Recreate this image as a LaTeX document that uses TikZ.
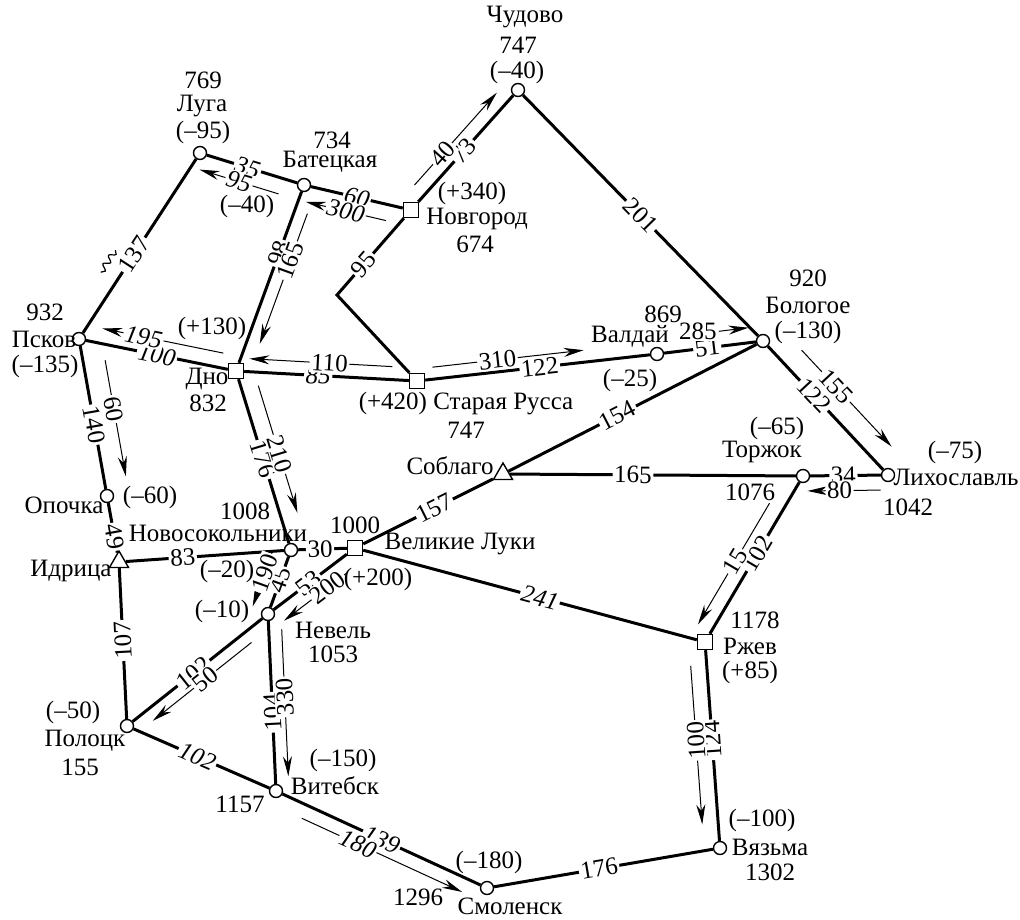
\documentclass[tikz,border=0pt]{standalone}
\usepackage{fontspec}
\setmainfont{Liberation Serif}
\usetikzlibrary{calc, positioning, shapes.geometric, arrows.meta, decorations.pathmorphing}
\newcommand{\mapfont}{\fontsize{12.5}{15}\selectfont}
\tikzstyle{stn}=[draw, shape=circle, fill=white, inner sep=0pt, minimum size=6.5pt, line width=0.7pt]
\tikzstyle{hub}=[draw, shape=rectangle, fill=white, inner sep=0pt, minimum size=7.5pt, line width=0.7pt]
\tikzstyle{jct}=[draw, shape=regular polygon, regular polygon sides=3, fill=white, inner sep=0pt, minimum size=11pt, line width=0.7pt]
\tikzstyle{rail}=[line width=1.5pt]
\tikzstyle{flow}=[line width=0.5pt, ->]
\tikzstyle{num}=[fill=white, inner sep=0.8pt, sloped, font=\mapfont]
\tikzstyle{inum}=[num, font=\mapfont\itshape]
\tikzstyle{upnum}=[fill=white, inner sep=0.8pt, font=\mapfont]
\tikzstyle{txt}=[inner sep=0pt, font=\mapfont]
\tikzset{>={Stealth[length=10pt, width=4.5pt]}}

\begin{document}
\begin{tikzpicture}[x=0.5pt, y=-0.5pt, font=\mapfont]
\useasboundingbox (0,0) rectangle (1020,919);

% stations
\node[stn] (Chud) at (518,90) {};
\node[stn] (Luga) at (200,153) {};
\node[stn] (Bat) at (304,185) {};
\node[hub] (Nov) at (411,210) {};
\coordinate (bend) at (337,295);
\node[stn] (Pskov) at (79,339) {};
\node[hub] (Dno) at (236,371) {};
\node[hub] (SR) at (417,381) {};
\node[stn] (Vald) at (657,354) {};
\node[stn] (Bolog) at (763,341) {};
\node[jct] (Sobl) at (503,474) {};
\node[stn] (Torzh) at (803,476) {};
\node[stn] (Likh) at (888,475) {};
\node[stn] (Opoch) at (107,496) {};
\node[jct] (Idr) at (119,562) {};
\node[stn] (Nsok) at (291,550) {};
\node[hub] (VL) at (355,548) {};
\node[stn] (Nev) at (268,614) {};
\node[hub] (Rzhev) at (705,642) {};
\node[stn] (Polo) at (127,726) {};
\node[stn] (Vit) at (276,791) {};
\node[stn] (Smol) at (487,888) {};
\node[stn] (Vyaz) at (720,848) {};

% lines
\draw[rail] (Luga) -- node[num, pos=.55] {137} (Pskov);
\draw[rail] (Luga) -- node[inum, pos=.45] {35} (Bat);
\draw[rail] (Bat) -- node[inum, pos=.5] {60} (Nov);
\draw[rail] (Nov) -- node[num, pos=.48] {73} (Chud);
\draw[rail] (Nov) -- node[num, pos=.6] {95} (bend) -- (SR);
\draw[rail] (Chud) -- node[num, pos=.5] {201} (Bolog);
\draw[rail] (Bat) -- node[num, pos=.36] {98} (Dno);
\draw[rail] (Pskov) -- node[inum, pos=.5] {100} (Dno);
\draw[rail] (Dno) -- node[inum, pos=.45] {85} (SR);
\draw[rail] (SR) -- node[num, pos=.51] {122} (Vald);
\draw[rail] (Vald) -- node[num, pos=.47] {51} (Bolog);
\draw[rail] (Bolog) -- node[num, pos=.4] {122} (Likh);
\draw[rail] (Sobl) -- node[num, pos=.44] {154} (Bolog);
\draw[rail] (Sobl) -- node[num, pos=.43] {165} (Torzh);
\draw[rail] (Torzh) -- node[num, pos=.47] {34} (Likh);
\draw[rail] (Torzh) -- node[num, pos=.47] {102} (Rzhev);
\draw[rail] (VL) -- node[num, pos=.55] {157} (Sobl);
\draw[rail] (VL) -- node[inum, pos=.53] {241} (Rzhev);
\draw[rail] (Nsok) -- node[num, pos=.45] {30} (VL);
\draw[rail] (Idr) -- node[num, pos=.36] {83} (Nsok);
\draw[rail] (Pskov) -- node[num, pos=.55] {140} (Opoch);
\draw[rail] (Opoch) -- node[num, pos=.68] {49} (Idr);
\draw[rail] (Polo) -- node[upnum, pos=.52, rotate=93] {107} (Idr);
\draw[rail] (Dno) -- node[num, pos=.49] {176} (Nsok);
\draw[rail] (Nsok) -- node[num, pos=.46] {45} (Nev);
\draw[rail] (VL) -- node[num, pos=.52] {53} (Nev);
\draw[rail] (Nev) -- node[num, pos=.53] {102} (Polo);
\draw[rail] (Vit) -- node[upnum, pos=.44, rotate=93] {104} (Nev);
\draw[rail] (Polo) -- node[inum, pos=.47] {102} (Vit);
\draw[rail] (Vit) -- node[inum, pos=.5] {139} (Smol);
\draw[rail] (Smol) -- node[num, pos=.48] {176} (Vyaz);
\draw[rail] (Vyaz) -- node[upnum, pos=.53, rotate=94] {124} (Rzhev);
\draw[line width=0.6pt, decorate, decoration={snake, amplitude=1.5pt, segment length=5pt}] ($(Luga)!.575!(Pskov)!-9pt!90:(Pskov)$) -- ($(Luga)!.695!(Pskov)!-9pt!90:(Pskov)$);

% flows
\draw[flow] ($(Bat)!.2!(Luga)!8pt!90:(Luga)$) -- node[inum] {95} ($(Bat)!.96!(Luga)!8pt!90:(Luga)$);
\draw[flow] ($(Nov)!.2!(Bat)!8pt!90:(Bat)$) -- node[inum] {300} ($(Nov)!.95!(Bat)!8pt!90:(Bat)$);
\draw[flow] ($(Nov)!.13!(Chud)!7pt!90:(Chud)$) -- node[num, pos=.34] {40} ($(Nov)!.9!(Chud)!7pt!90:(Chud)$);
\draw[flow] ($(Bat)!.13!(Dno)!6.5pt!90:(Dno)$) -- node[num, pos=.36] {165} ($(Bat)!.83!(Dno)!6.5pt!90:(Dno)$);
\draw[flow] ($(Dno)!.1!(Pskov)!-7.5pt!90:(Pskov)$) -- node[inum, pos=.66] {195} ($(Dno)!.87!(Pskov)!-7.5pt!90:(Pskov)$);
\draw[flow] ($(SR)!.14!(Dno)!-6.5pt!90:(Dno)$) -- node[num, pos=.44] {110} ($(SR)!.93!(Dno)!-6.5pt!90:(Dno)$);
\draw[flow] ($(SR)!.07!(Vald)!6pt!90:(Vald)$) -- node[num, pos=.43] {310} ($(SR)!.7!(Vald)!6pt!90:(Vald)$);
\draw[flow] ($(Vald)!.6!(Bolog)!7.5pt!90:(Bolog)$) node[num, anchor=east] {285} -- ($(Vald)!.88!(Bolog)!7.5pt!90:(Bolog)$);
\draw[flow] ($(Bolog)!.18!(Likh)!11pt!90:(Likh)$) -- node[num, pos=.38] {155} ($(Bolog)!.9!(Likh)!11pt!90:(Likh)$);
\draw[flow] ($(Likh)!.09!(Torzh)!7.5pt!90:(Torzh)$) -- node[num, pos=.56] {80} ($(Likh)!.95!(Torzh)!7.5pt!90:(Torzh)$);
\draw[flow] ($(Torzh)!.21!(Rzhev)!-7.5pt!90:(Rzhev)$) -- node[num, pos=.48] {15} ($(Torzh)!.94!(Rzhev)!-7.5pt!90:(Rzhev)$);
\draw[flow] ($(Pskov)!.16!(Opoch)!11pt!90:(Opoch)$) -- node[num, pos=.42] {60} ($(Pskov)!.9!(Opoch)!11pt!90:(Opoch)$);
\draw[flow] ($(Dno)!.11!(Nsok)!8.5pt!90:(Nsok)$) -- node[num, pos=.54] {210} ($(Dno)!.82!(Nsok)!8.5pt!90:(Nsok)$);
\draw[flow] ($(Nsok)!.1!(Nev)!-8.5pt!90:(Nev)$) -- node[num, pos=.4] {190} ($(Nsok)!.97!(Nev)!-8.5pt!90:(Nev)$);
\draw[flow] ($(VL)!.2!(Nev)!7.5pt!90:(Nev)$) -- node[num, pos=.3] {200} ($(VL)!.92!(Nev)!7.5pt!90:(Nev)$);
\draw[flow] ($(Nev)!.17!(Polo)!6pt!90:(Polo)$) -- node[num, pos=.47] {50} ($(Nev)!.87!(Polo)!6pt!90:(Polo)$);
\draw[flow] ($(Nev)!.09!(Vit)!6.5pt!90:(Vit)$) -- node[upnum, pos=.46, rotate=93] {330} ($(Nev)!.92!(Vit)!6.5pt!90:(Vit)$);
\draw[flow] ($(Vit)!.15!(Smol)!-7pt!90:(Smol)$) -- node[inum, pos=.35] {180} ($(Vit)!.91!(Smol)!-7pt!90:(Smol)$);
\draw[flow] ($(Rzhev)!.11!(Vyaz)!-8pt!90:(Vyaz)$) -- node[upnum, pos=.47, rotate=94] {100} ($(Rzhev)!.88!(Vyaz)!-8pt!90:(Vyaz)$);

% station texts
\node[txt] (chudName) at (525,17) {Чудово};
\node[txt] (chudKm) at (518,45) {747};
\node[txt] (chudBal) at (517,72) {(–40)};
\node[txt] (lugaKm) at (203,80) {769};
\node[txt] (lugaName) at (202,106) {Луга};
\node[txt] (lugaBal) at (203,132) {(–95)};
\node[txt] (batKm) at (332,140) {734};
\node[txt] (batName) at (330,162) {Батецкая};
\node[txt] (batBal) at (247,206) {(–40)};
\node[txt] (novBal) at (472,193) {(+340)};
\node[txt] (novName) at (477,219) {Новгород};
\node[txt] (novKm) at (475,244) {674};
\node[txt] (pskovKm) at (45,312) {932};
\node[txt] (pskovName) at (44,339) {Псков};
\node[txt] (pskovBal) at (45,366) {(–135)};
\node[txt] (dnoBal) at (212,328) {(+130)};
\node[txt] (dnoName) at (207,379) {Дно};
\node[txt] (dnoKm) at (208,403) {832};
\node[txt] (srName) at (466,404) {(+420) Старая Русса};
\node[txt] (srKm) at (466,430) {747};
\node[txt] (valdKm) at (663,314) {869};
\node[txt] (valdName) at (630,336) {Валдай};
\node[txt] (valdBal) at (630,380) {(–25)};
\node[txt] (bologKm) at (808,278) {920};
\node[txt] (bologName) at (808,305) {Бологое};
\node[txt] (bologBal) at (808,332) {(–130)};
\node[txt] (soblName) at (450,466) {Соблаго};
\node[txt] (torzhBal) at (777,428) {(–65)};
\node[txt] (torzhName) at (762,452) {Торжок};
\node[txt] (torzhKm) at (750,492) {1076};
\node[txt] (likhBal) at (955,452) {(–75)};
\node[txt] (likhName) at (956,477) {Лихославль};
\node[txt] (likhKm) at (908,507) {1042};
\node[txt] (opochName) at (64,505) {Опочка};
\node[txt] (opochBal) at (150,497) {(–60)};
\node[txt] (idrName) at (71,571) {Идрица};
\node[txt] (nsokKm) at (245,511) {1008};
\node[txt] (nsokName) at (218,533) {Новосокольники};
\node[txt] (nsokBal) at (227,571) {(–20)};
\node[txt] (vlKm) at (355,525) {1000};
\node[txt] (vlName) at (460,544) {Великие Луки};
\node[txt] (vlBal) at (378,579) {(+200)};
\node[txt] (nevBal) at (222,611) {(–10)};
\node[txt] (nevName) at (333,630) {Невель};
\node[txt] (nevKm) at (333,654) {1053};
\node[txt] (rzhevKm) at (755,620) {1178};
\node[txt] (rzhevName) at (750,646) {Ржев};
\node[txt] (rzhevBal) at (750,672) {(+85)};
\node[txt] (poloBal) at (73,712) {(–50)};
\node[txt] (poloName) at (85,741) {Полоцк};
\node[txt] (poloKm) at (80,767) {155};
\node[txt] (vitBal) at (343,760) {(–150)};
\node[txt] (vitName) at (335,786) {Витебск};
\node[txt] (vitKm) at (240,804) {1157};
\node[txt] (smolBal) at (489,862) {(–180)};
\node[txt] (smolName) at (510,906) {Смоленск};
\node[txt] (smolKm) at (418,897) {1296};
\node[txt] (vyazBal) at (762,820) {(–100)};
\node[txt] (vyazName) at (770,847) {Вязьма};
\node[txt] (vyazKm) at (770,872) {1302};
\end{tikzpicture}
\end{document}
